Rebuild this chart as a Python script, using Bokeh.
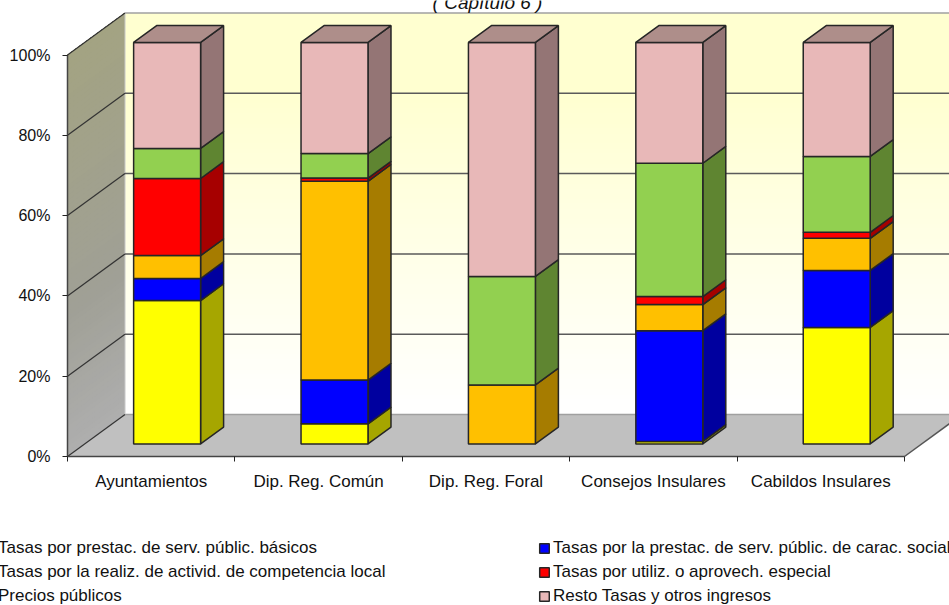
from bokeh.plotting import figure
from bokeh.models import Range1d, FixedTicker, Legend, LegendItem, Label
from bokeh.embed import file_html
from bokeh.resources import INLINE

categories = ["Ayuntamientos", "Dip. Reg. Común", "Dip. Reg. Foral", "Consejos Insulares", "Cabildos Insulares"]
series_names = [
    "Tasas por prestac. de serv. públic. básicos",
    "Tasas por la prestac. de serv. públic. de carac. social",
    "Tasas por la realiz. de activid. de competencia local",
    "Tasas por utiliz. o aprovech. especial",
    "Precios públicos",
    "Resto Tasas y otros ingresos",
]
basicos = [35.7, 5.0, 0.0, 0.6, 29.0]
social = [5.5, 10.9, 0.0, 27.6, 14.2]
competencia = [5.7, 49.5, 14.7, 6.5, 8.0]
utilizacion = [19.2, 0.8, 0.0, 2.0, 1.5]
precios = [7.5, 6.1, 27.0, 33.2, 18.9]
resto = [26.4, 27.7, 58.3, 30.1, 28.4]
series_values = [basicos, social, competencia, utilizacion, precios, resto]
front_colors = ["#ffff00", "#0000ff", "#ffc000", "#ff0000", "#92d050", "#e8b8b8"]
side_colors = ["#a6a600", "#00009f", "#a67c00", "#a60000", "#5f8531", "#947575"]
top_color = "#ae8e8a"
y_ticks = [0, 20, 40, 60, 80, 100]
title_text = "( Capítulo 6 )"

W, H = 949, 605
PX_X = 167.4      # pixels per category
PX_Y = 4.015      # pixels per percent
LEFT, BASE = 67, 456
DX, DY = 57.5 / PX_X, 42 / PX_Y   # full depth of the 3D box
D0, D1 = 0.30, 0.70               # bar depth span
BAR_L, BAR_R = 0.292, 0.692       # front face within the category
FONT = "Liberation Sans"
n = len(categories)

p = figure(width=W, height=H, output_backend="svg", toolbar_location=None,
           x_range=Range1d(-LEFT / PX_X, (W - LEFT) / PX_X),
           y_range=Range1d(-(H - BASE) / PX_Y, BASE / PX_Y),
           min_border_left=0, min_border_right=0, min_border_top=0, min_border_bottom=0,
           outline_line_color=None)
p.grid.visible = False


def lerp(a, b, t):
    return "#%02x%02x%02x" % tuple(round(a[i] + (b[i] - a[i]) * t) for i in range(3))


def wall_color(t):
    if t < 0.35:
        return lerp((174, 174, 174), (160, 160, 150), t / 0.35)
    return lerp((160, 160, 150), (163, 163, 130), (t - 0.35) / 0.65)


# back wall and side wall gradients: each band runs to the top, the next one paints over it
xmax = p.x_range.end
steps = 80
for i in range(steps):
    t0 = i / steps
    y0, y1 = DY + 100 * t0, DY + 100
    c = lerp((255, 255, 255), (255, 255, 208), min(1, t0 * 1.25))
    p.quad(left=DX, right=xmax, bottom=y0, top=y1, fill_color=c, line_color=None)
    p.patch([0, DX, DX, 0], [100 * t0, DY + 100 * t0, DY + 100, 100],
            fill_color=wall_color(t0), line_color=None)

# floor
p.patch([0, DX, xmax, xmax, n], [0, DY, DY, (xmax - n) * DY / DX, 0],
        fill_color="#c0c0c0", line_color=None)
p.line([n, xmax], [0, (xmax - n) * DY / DX], line_color="#555555", line_width=1.5)
p.line([DX, xmax], [DY, DY], line_color="#a0a0a0", line_width=1.5)
p.line([DX, xmax], [100 + DY, 100 + DY], line_color="#a0a0a0", line_width=1.5)
p.line([DX, DX], [DY, 100 + DY], line_color="#c8c8c8", line_width=1)

# grid
for v in y_ticks[1:-1]:
    p.line([DX, xmax], [v + DY, v + DY], line_color="#5a5a5a", line_width=1.5)
for v in y_ticks:
    p.line([0, DX], [v, v + DY], line_color="#333333", line_width=1.2)

# bars
renderers = []
edge = "#262626"
bottoms = [0.0] * n
for s, vals in enumerate(series_values):
    fx, fy, sx, sy = [], [], [], []
    for i, v in enumerate(vals):
        if v <= 0:
            continue
        b, t = bottoms[i], bottoms[i] + v
        xl = i + BAR_L + D0 * DX
        xr = i + BAR_R + D0 * DX
        lo0, hi0 = b + D0 * DY, t + D0 * DY
        xb = i + BAR_R + D1 * DX
        lo1, hi1 = b + D1 * DY, t + D1 * DY
        fx.append([xl, xr, xr, xl]); fy.append([lo0, lo0, hi0, hi0])
        sx.append([xr, xb, xb, xr]); sy.append([lo0, lo1, hi1, hi0])
    p.patches(sx, sy, fill_color=side_colors[s], line_color=edge, line_width=1.5)
    r = p.patches(fx, fy, fill_color=front_colors[s], line_color=edge, line_width=1.5)
    renderers.append(r)
    bottoms = [bottoms[i] + vals[i] for i in range(n)]

tx, ty = [], []
for i in range(n):
    h = bottoms[i]
    xl = i + BAR_L + D0 * DX
    xr = i + BAR_R + D0 * DX
    d = D1 - D0
    tx.append([xl, xr, xr + d * DX, xl + d * DX])
    ty.append([h + D0 * DY, h + D0 * DY, h + D1 * DY, h + D1 * DY])
p.patches(tx, ty, fill_color=top_color, line_color=edge, line_width=1.5)

# axes
yax = p.yaxis[0]
yax.fixed_location = 0
yax.ticker = FixedTicker(ticks=y_ticks)
yax.major_label_overrides = {v: f"{v}%" for v in y_ticks}
yax.major_label_text_font = FONT
yax.major_label_text_font_size = "16px"
yax.major_label_text_color = "#111111"
yax.major_label_standoff = 12
yax.major_tick_out = 5
yax.major_tick_in = 0
yax.minor_tick_out = 0
yax.minor_tick_in = 0
yax.axis_line_color = None
yax.major_tick_line_color = "#222222"
p.line([0, 0], [0, 100], line_color="#444444", line_width=1.5)

centers = [i + 0.5 for i in range(n)]
xax = p.xaxis[0]
xax.fixed_location = 0
xax.ticker = FixedTicker(ticks=centers, minor_ticks=list(range(n + 1)))
xax.major_label_overrides = dict(zip(centers, categories))
xax.major_label_text_font = FONT
xax.major_label_text_font_size = "17px"
xax.major_label_text_color = "#111111"
xax.major_label_standoff = 10
xax.major_tick_out = 0
xax.major_tick_in = 0
xax.minor_tick_out = 5
xax.minor_tick_in = 0
xax.minor_tick_line_color = "#222222"
xax.axis_line_color = None
p.line([0, n], [0, 0], line_color="#444444", line_width=1.5)

# legends
left_items = [LegendItem(label=series_names[i], renderers=[renderers[i]]) for i in (0, 2, 4)]
right_items = [LegendItem(label=series_names[i], renderers=[renderers[i]]) for i in (1, 3, 5)]
for items, loc in ((left_items, (-17, -1)), (right_items, (538, -1))):
    p.add_layout(Legend(items=items, location=loc, orientation="vertical", margin=0, padding=0,
                        spacing=4, glyph_width=12, glyph_height=12, label_standoff=3,
                        label_height=20, label_text_font=FONT, label_text_font_size="17px",
                        label_text_color="#111111", background_fill_alpha=0,
                        border_line_color=None, click_policy="none"))

p.add_layout(Label(x=(487 - LEFT) / PX_X, y=(BASE - 2) / PX_Y, text=title_text, text_align="center",
                   text_baseline="alphabetic", text_font=FONT, text_font_style="italic",
                   text_font_size="19px", text_color="#111111"))

open("out.html", "w").write(file_html(p, INLINE))
